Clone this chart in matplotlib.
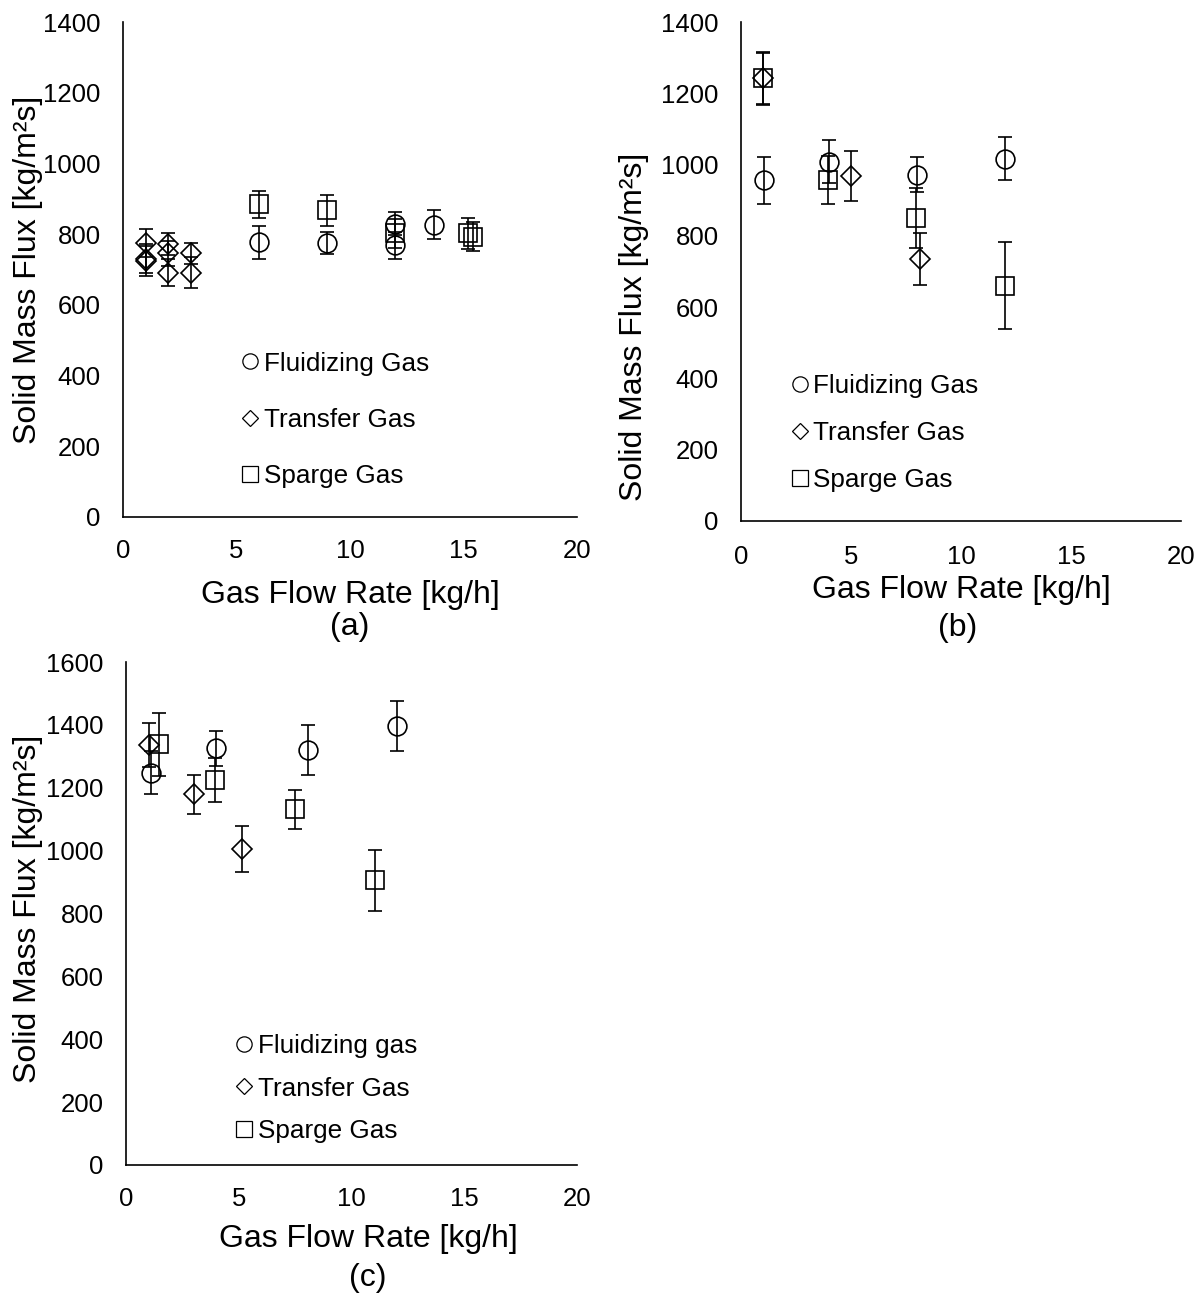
import matplotlib
matplotlib.use("Agg")
import matplotlib.pyplot as plt
from matplotlib.lines import Line2D

plt.rcParams['font.family'] = ['Liberation Sans', 'DejaVu Sans']

# ---------------- data ----------------
# Panel (a)
a_fluid_x = [6, 9, 12, 12, 13.7]
a_fluid_y = [777, 776, 830, 769, 827]
a_fluid_e = [47, 31, 33, 38, 42]
a_trans_x = [1, 1, 1, 2, 2, 2, 3, 3]
a_trans_y = [774, 731, 724, 772, 746, 691, 746, 691]
a_trans_e = [40, 40, 43, 30, 35, 38, 30, 44]
a_sparge_x = [6, 9, 12, 15.2, 15.4]
a_sparge_y = [884, 867, 802, 802, 793]
a_sparge_e = [39, 43, 40, 43, 41]

# Panel (b)
b_fluid_x = [1.05, 4, 8, 12]
b_fluid_y = [956, 1008, 972, 1017]
b_fluid_e = [66, 61, 50, 61]
b_trans_x = [1, 5, 8.15]
b_trans_y = [1242, 969, 735]
b_trans_e = [75, 70, 74]
b_sparge_x = [1, 3.95, 7.95, 12]
b_sparge_y = [1242, 957, 850, 660]
b_sparge_e = [72, 67, 83, 122]

# Panel (c)
c_fluid_x = [1.1, 4, 8.05, 12]
c_fluid_y = [1248, 1325, 1320, 1396]
c_fluid_e = [68, 56, 80, 80]
c_trans_x = [1, 3, 5.15]
c_trans_y = [1336, 1179, 1005]
c_trans_e = [69, 62, 74]
c_sparge_x = [1.45, 3.95, 7.5, 11.05]
c_sparge_y = [1338, 1225, 1131, 906]
c_sparge_e = [100, 71, 63, 97]

legend_a = ["Fluidizing Gas", "Transfer Gas", "Sparge Gas"]
legend_b = ["Fluidizing Gas", "Transfer Gas", "Sparge Gas"]
legend_c = ["Fluidizing gas", "Transfer Gas", "Sparge Gas"]

xlabel = "Gas Flow Rate [kg/h]"
ylabel = "Solid Mass Flux [kg/m²s]"

W, H = 1204, 1293
fig = plt.figure(figsize=(W / 100, H / 100), dpi=100)


def px_axes(left, right, top, bottom):
    return fig.add_axes([left / W, 1 - bottom / H, (right - left) / W, (bottom - top) / H])


axA = px_axes(123, 577, 22, 517)
axB = px_axes(741, 1181, 22, 521)
axC = px_axes(126, 577, 662, 1165)

TICK_FS = 18.5
LAB_FS = 23
LEG_FS = 18.8


def draw(ax, sets, ymax, ystep):
    styles = [('o', 13.5), ('D', 10.0), ('s', 13.5)]
    for (x, y, e), (m, ms) in zip(sets, styles):
        ax.errorbar(x, y, yerr=e, fmt=m, ms=ms, mfc='none', mec='black', mew=1.2,
                    ecolor='black', elinewidth=1.2, capsize=4.8, capthick=1.2,
                    linestyle='none')
    ax.set_xlim(0, 20)
    ax.set_ylim(0, ymax)
    ax.set_xticks(range(0, 21, 5))
    ax.set_yticks(range(0, ymax + 1, ystep))
    for s in ('top', 'right'):
        ax.spines[s].set_visible(False)
    for s in ('left', 'bottom'):
        ax.spines[s].set_linewidth(1.2)
    ax.tick_params(length=0, labelsize=TICK_FS)
    ax.tick_params(axis='y', pad=16)


def legend(ax, labels, ax_x, ax_y, spacing):
    handles = [
        Line2D([], [], marker='o', ls='none', mfc='none', mec='black', ms=11, mew=0.9),
        Line2D([], [], marker='D', ls='none', mfc='none', mec='black', ms=8.2, mew=0.9),
        Line2D([], [], marker='s', ls='none', mfc='none', mec='black', ms=11, mew=0.9),
    ]
    ax.legend(handles, labels, loc='center left', bbox_to_anchor=(ax_x, ax_y),
              frameon=False, fontsize=LEG_FS, handlelength=0.6, handletextpad=0.22,
              borderpad=0, borderaxespad=0, labelspacing=spacing)


draw(axA, [(a_fluid_x, a_fluid_y, a_fluid_e), (a_trans_x, a_trans_y, a_trans_e),
           (a_sparge_x, a_sparge_y, a_sparge_e)], 1400, 200)
draw(axB, [(b_fluid_x, b_fluid_y, b_fluid_e), (b_trans_x, b_trans_y, b_trans_e),
           (b_sparge_x, b_sparge_y, b_sparge_e)], 1400, 200)
draw(axC, [(c_fluid_x, c_fluid_y, c_fluid_e), (c_trans_x, c_trans_y, c_trans_e),
           (c_sparge_x, c_sparge_y, c_sparge_e)], 1600, 200)

axA.tick_params(axis='x', pad=15.5)
axB.tick_params(axis='x', pad=17.5)
axC.tick_params(axis='x', pad=16)

legend(axA, legend_a, 0.263, 0.196, 1.24)
legend(axB, legend_b, 0.116, 0.176, 0.88)
legend(axC, legend_c, 0.245, 0.152, 0.72)

for ax, lx, ly, xx, xy in [(axA, -0.176, 0.5, 0.5, -0.128),
                           (axB, -0.208, 0.39, 0.5, -0.108),
                           (axC, -0.183, 0.51, 0.537, -0.117)]:
    ax.set_xlabel(xlabel, fontsize=LAB_FS)
    ax.set_ylabel(ylabel, fontsize=LAB_FS)
    ax.yaxis.set_label_coords(lx, ly)
    ax.xaxis.set_label_coords(xx, xy)

for txt, x, y in [("(a)", 350, 627), ("(b)", 958, 628), ("(c)", 368, 1278)]:
    fig.text(x / W, 1 - y / H, txt, fontsize=LAB_FS, ha='center', va='center')

fig.savefig("out.png", dpi=100)
